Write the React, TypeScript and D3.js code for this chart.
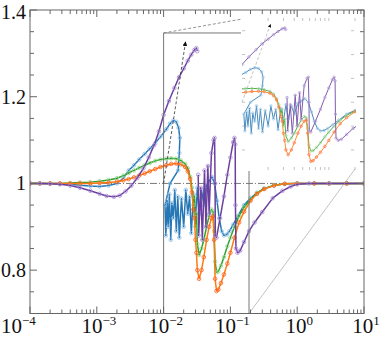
import React from 'react';
import * as d3 from 'd3';

const W = 380, H = 338;
const PL = 30, PR = 364, PT = 10, PB = 313.5;
const FONT = 'Liberation Serif, Times New Roman, Times, serif';

const yLabelVals = [0.8, 1, 1.2, 1.4];
const yLabelText = ['0.8', '1', '1.2', '1.4'];
const xDecadeExp = [-4, -3, -2, -1, 0, 1];
const xSupText = ['\u22124', '\u22123', '\u22122', '\u22121', '0', '1'];

const blueX = [1e-4,1.4e-4,2e-4,2.8e-4,4e-4,5.6e-4,8e-4,1.1e-3,1.5e-3,2e-3,2.5e-3,3e-3,3.6e-3,4.3e-3,5.2e-3,6.2e-3,7.5e-3,9e-3,0.011,0.0125,0.014,0.0155,0.0168,0.0175,0.0172,0.0165,
  0.0125,0.0105,0.0108,0.0113,0.0117,0.0122,0.0128,0.0133,0.014,0.0147,0.0155,0.0163,0.0172,0.0185,0.02,0.0215,0.023,0.0245,0.026,0.028,0.03,0.032,0.034,0.037,0.04,0.044,0.048,0.053,0.058,0.063,0.068,0.074,0.08,0.088,0.097,0.11,0.13,0.16,0.2,0.25,0.32,0.45,0.65,1,1.8,3,5.5,10];
const blueY = [1,1,1,0.999,0.998,0.996,0.994,0.993,0.995,1.0,1.012,1.03,1.042,1.055,1.068,1.08,1.093,1.108,1.125,1.138,1.145,1.142,1.128,1.105,1.07,1.03,
  1.0,0.95,0.88,0.96,0.9,0.975,0.87,0.955,0.92,0.985,0.89,0.97,0.875,0.965,0.9,0.985,0.93,0.97,0.885,0.975,0.92,0.99,0.93,0.985,0.95,0.995,1.005,1.015,1.0,0.96,0.92,0.89,0.88,0.882,0.89,0.905,0.925,0.95,0.966,0.978,0.988,0.995,0.999,1,1,1,1,1];

const goX = [1e-4,1.4e-4,2e-4,2.8e-4,4e-4,5.6e-4,8e-4,1.1e-3,1.5e-3,2e-3,2.5e-3,3e-3,3.6e-3,4.3e-3,5.2e-3,6.2e-3,7.5e-3,9e-3,0.011,0.013,0.0155,0.018,0.021,0.023,0.025,0.0265,0.028,0.029,0.03,0.031,0.032,0.034,0.037,0.04,0.044,0.048,0.052,0.055,0.057,0.059,0.062,0.066,0.072,0.08,0.09,0.1,0.115,0.135,0.16,0.2,0.25,0.32,0.45,0.65,1,1.8,3,5.5,10];
const greenY = [1,1,1,1,1.001,1.002,1.003,1.005,1.008,1.012,1.018,1.024,1.03,1.036,1.042,1.047,1.052,1.055,1.057,1.058,1.057,1.053,1.045,1.035,1.015,0.99,0.95,0.97,0.9,0.93,0.86,0.835,0.85,0.87,0.9,0.925,0.94,0.935,0.89,0.82,0.795,0.797,0.81,0.83,0.855,0.875,0.9,0.925,0.945,0.963,0.978,0.988,0.996,0.999,1,1,1,1,1];
const orangeY = [1,1,1,1,1,1,1,1.001,1.002,1.004,1.007,1.01,1.014,1.018,1.023,1.028,1.033,1.038,1.042,1.045,1.046,1.044,1.038,1.028,1.01,0.98,0.94,0.92,0.87,0.84,0.8,0.78,0.8,0.83,0.87,0.9,0.92,0.925,0.87,0.78,0.752,0.755,0.77,0.79,0.815,0.84,0.875,0.91,0.935,0.96,0.976,0.987,0.995,0.999,1,1,1,1,1];

const purpleX = [1e-4,1.4e-4,2e-4,2.8e-4,4e-4,5.6e-4,8e-4,1.1e-3,1.4e-3,1.8e-3,2.2e-3,2.7e-3,3.3e-3,4e-3,5e-3,6e-3,7.2e-3,8.5e-3,0.01,0.012,0.0145,0.017,0.02,0.023,0.026,0.029,0.031,0.0318,0.032,
  0.033,0.0335,0.036,0.038,0.041,0.043,0.046,0.048,0.052,0.056,0.058,0.059,0.0595,0.062,0.07,0.08,0.09,0.1,0.11,0.115,0.118,0.119,0.121,0.128,0.14,0.16,0.19,0.23,0.3,0.43,0.6,0.8,1,1.5,3,10];
const purpleY = [1,1,0.999,0.998,0.995,0.99,0.983,0.976,0.971,0.969,0.972,0.982,0.995,1.012,1.035,1.06,1.088,1.12,1.158,1.19,1.22,1.245,1.265,1.283,1.297,1.308,1.312,1.305,NaN,
  1.02,0.88,0.99,0.87,1.03,0.9,1.04,0.93,1.07,1.1,1.105,1.0,0.88,0.875,0.92,0.97,1.02,1.06,1.095,1.105,1.09,0.95,0.85,0.84,0.845,0.865,0.89,0.91,0.934,0.966,0.983,0.993,0.998,1,1,1];

const arrowX = [0.01, 0.0213];
const arrowY = [1.0, 1.326];

type P = { x: number; y: number };
const zip = (xs: number[], ys: number[]): P[] => xs.map((x, i) => ({ x, y: ys[i] }));

const SERIES = [
  { name: 'blue', data: zip(blueX, blueY), color: '#2677b5', mk: '#8dbfe3' },
  { name: 'green', data: zip(goX, greenY), color: '#2ca02c', mk: '#96d48f' },
  { name: 'orange', data: zip(goX, orangeY), color: '#ff7b0f', mk: '#ff5a20' },
  { name: 'purple', data: zip(purpleX, purpleY), color: '#6b3fa0', mk: '#a78bd0' },
];

export default function App() {
  const x = d3.scaleLog().domain([1e-4, 10]).range([PL, PR]);
  const y = d3.scaleLinear().domain([0.7, 1.4]).range([PB, PT]);
  const xi = d3.scaleLog().domain([0.01, 0.2]).range([242, 355]);
  const yi = d3.scaleLinear().domain([0.72, 1.345]).range([169, 20]);

  const renderSeries = (sx: any, sy: any, lw: number, r: number, key: string) =>
    SERIES.map((s) => {
      const line = d3.line<P>().defined((d) => !isNaN(d.y)).x((d) => sx(d.x)).y((d) => sy(d.y));
      return (
        <g key={key + s.name}>
          <path d={line(s.data) || ''} fill="none" stroke={s.color} strokeWidth={lw} strokeLinejoin="round" />
          {s.data.filter((d) => !isNaN(d.y)).map((d, i) => (
            <circle key={i} cx={sx(d.x)} cy={sy(d.y)} r={r} fill="none" stroke={s.mk} strokeWidth={0.8} />
          ))}
        </g>
      );
    });

  const yTicks = d3.range(0.7, 1.4001, 0.05);
  const xTicks: { v: number; major: boolean }[] = [];
  for (let e = -4; e <= 0; e++) for (let k = 1; k <= 9; k++) xTicks.push({ v: k * Math.pow(10, e), major: k === 1 });
  xTicks.push({ v: 10, major: true });
  const inXTicks = [0.02, 0.03, 0.04, 0.05, 0.06, 0.07, 0.08, 0.09, 0.1, 0.2];
  const inYTicks = [0.8, 0.9, 1.0, 1.1, 1.2, 1.3];

  const axisC = '#666';
  const boxTop = y(1.347);
  const boxL = x(0.01), boxR = x(0.19);

  return (
    <svg width={W} height={H} style={{ position: 'absolute', left: 0, top: 0, background: '#fff' }}>
      <defs>
        <clipPath id="mainClip"><rect x={PL} y={PT} width={PR - PL} height={PB - PT} /></clipPath>
        <clipPath id="inClip"><rect x={242} y={18} width={114} height={152} /></clipPath>
        <marker id="arrB" viewBox="0 0 6 6" refX="5" refY="3" markerWidth="6" markerHeight="6" orient="auto">
          <path d="M0,0 L6,3 L0,6 z" fill="#111" />
        </marker>
        <marker id="arrG" viewBox="0 0 6 6" refX="5" refY="3" markerWidth="5" markerHeight="5" orient="auto">
          <path d="M0,0 L6,3 L0,6 z" fill="#111" />
        </marker>
      </defs>

      <line x1={PL} x2={PR} y1={y(1)} y2={y(1)} stroke="#555" strokeWidth={0.8} strokeDasharray="7,2,1,2" />

      <g clipPath="url(#mainClip)">{renderSeries(x, y, 1.5, 1.8, 'm')}</g>

      <line x1={boxL} x2={boxL} y1={boxTop} y2={PB} stroke="#777" strokeWidth={1} />
      <line x1={boxL} x2={241} y1={boxTop} y2={boxTop} stroke="#777" strokeWidth={1} />
      <line x1={boxR} x2={boxR} y1={boxTop} y2={PB} stroke="#777" strokeWidth={1} />

      <line x1={x(arrowX[0])} y1={y(arrowY[0])} x2={x(arrowX[1])} y2={y(arrowY[1])} stroke="#333" strokeWidth={0.8} strokeDasharray="3,2" markerEnd="url(#arrB)" />

      <rect x={241} y={17} width={116} height={154} fill="#fff" />
      <g clipPath="url(#inClip)" opacity={0.85}>{renderSeries(xi, yi, 1, 1.2, 'i')}</g>
      <line x1={xi(arrowX[0])} y1={yi(arrowY[0])} x2={xi(arrowX[1])} y2={yi(arrowY[1])} stroke="#aaa" strokeWidth={0.7} strokeDasharray="3,2" markerEnd="url(#arrG)" />
      {inXTicks.map((v, i) => (
        <g key={'ixt' + i}>
          <line x1={xi(v)} x2={xi(v)} y1={18} y2={21} stroke="#999" strokeWidth={0.6} />
          <line x1={xi(v)} x2={xi(v)} y1={167} y2={170} stroke="#999" strokeWidth={0.6} />
        </g>
      ))}
      {inYTicks.map((v, i) => (
        <g key={'iyt' + i}>
          <line x1={242} x2={245} y1={yi(v)} y2={yi(v)} stroke="#999" strokeWidth={0.6} />
          <line x1={351} x2={354} y1={yi(v)} y2={yi(v)} stroke="#999" strokeWidth={0.6} />
        </g>
      ))}

      <line x1={boxL} y1={boxTop} x2={242} y2={19} stroke="#777" strokeWidth={0.8} strokeDasharray="3,2" />
      <line x1={boxR} y1={PB} x2={355} y2={169} stroke="#999" strokeWidth={0.6} />

      <rect x={PL} y={PT} width={PR - PL} height={PB - PT} fill="none" stroke={axisC} strokeWidth={1} />
      {yTicks.map((v, i) => {
        const major = Math.abs(Math.round(v * 10) / 10 - v) < 1e-6 && Math.round(v * 10) % 2 === 0;
        const len = major ? 7 : 4;
        return (
          <g key={'yt' + i}>
            <line x1={PL} x2={PL + len} y1={y(v)} y2={y(v)} stroke={axisC} strokeWidth={1} />
            <line x1={PR} x2={PR - len} y1={y(v)} y2={y(v)} stroke={axisC} strokeWidth={1} />
          </g>
        );
      })}
      {xTicks.map((t, i) => {
        const len = t.major ? 7 : 4;
        return (
          <g key={'xt' + i}>
            <line x1={x(t.v)} x2={x(t.v)} y1={PB} y2={PB - len} stroke={axisC} strokeWidth={1} />
            <line x1={x(t.v)} x2={x(t.v)} y1={PT} y2={PT + len} stroke={axisC} strokeWidth={1} />
          </g>
        );
      })}
      {yLabelVals.map((v, i) => (
        <text key={'yl' + i} x={26} y={Math.max(y(v) + 7, 19)} textAnchor="end" fontSize={20} fill="#111" fontFamily={FONT}>{yLabelText[i]}</text>
      ))}
      {xDecadeExp.map((e, i) => (
        <text key={'xl' + i} x={i === 0 ? 1 : x(Math.pow(10, e)) + 2} y={333} textAnchor={i === 0 ? 'start' : 'middle'} fontSize={21} fill="#111" fontFamily={FONT}>
          10<tspan dy={-8} fontSize={13}>{xSupText[i]}</tspan>
        </text>
      ))}
    </svg>
  );
}
